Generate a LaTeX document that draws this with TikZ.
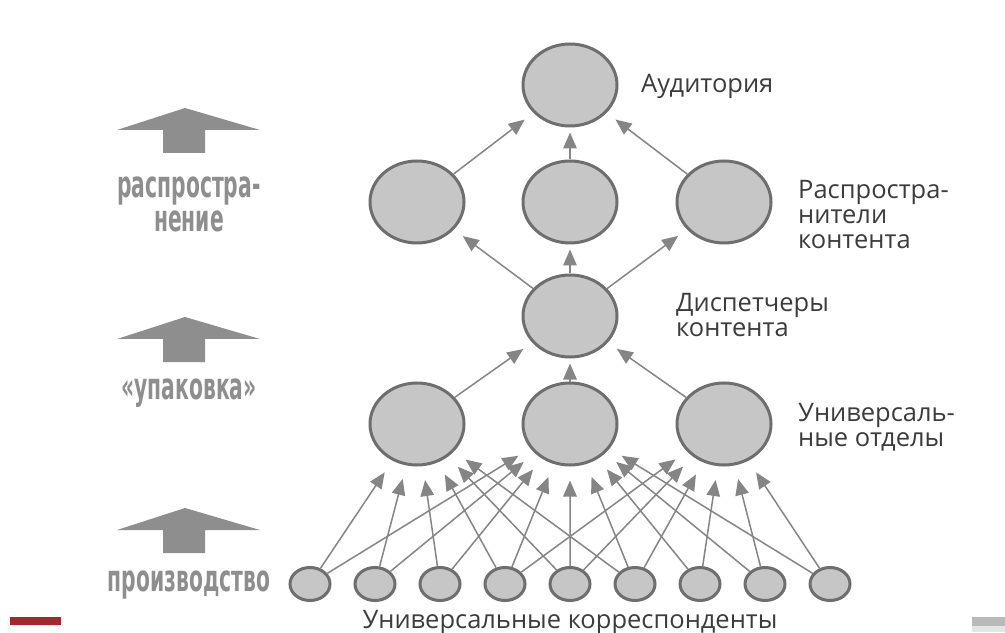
\documentclass[tikz,border=0pt]{standalone}
\usepackage{fontspec}
\setmainfont{Open Sans}
\newfontfamily\stagefont[FakeStretch=0.55]{DejaVu Sans}
\usetikzlibrary{shapes.geometric,arrows.meta}

\definecolor{ringgray}{HTML}{6E6E6E}
\definecolor{discgray}{HTML}{C6C6C6}
\definecolor{linkgray}{HTML}{858585}
\definecolor{stagegray}{HTML}{8E8E8E}
\definecolor{labelgray}{HTML}{3C3C3C}
\definecolor{barred}{HTML}{A3282B}

\tikzset{
    bigdisc/.style={ellipse, draw=ringgray, fill=discgray, line width=0.06cm,
        minimum width=1.88cm, minimum height=1.64cm, inner sep=0pt},
    smalldisc/.style={ellipse, draw=ringgray, fill=discgray, line width=0.06cm,
        minimum width=0.8cm, minimum height=0.66cm, inner sep=0pt},
    flow/.style={draw=linkgray, line width=0.03cm,
        -{Triangle[length=0.32cm,width=0.27cm]}, shorten >=0.22cm},
    rolelabel/.style={anchor=west, align=left, text=labelgray,
        font=\fontsize{14.5}{14.2}\selectfont},
    stagelabel/.style={text=stagegray, align=center,
        font=\stagefont\bfseries\fontsize{21}{19.3}\selectfont},
}

\begin{document}
\begin{tikzpicture}
        \useasboundingbox[fill=white] (0, 0) rectangle (20.1, 12.64);

        % levels
        \node[bigdisc] (aud) at (11.4, 10.94) {};
        \node[bigdisc] (dist1) at (8.34, 8.6) {};
        \node[bigdisc] (dist2) at (11.4, 8.6) {};
        \node[bigdisc] (dist3) at (14.48, 8.6) {};
        \node[bigdisc] (disp) at (11.4, 6.32) {};
        \node[bigdisc] (dept1) at (8.34, 4.16) {};
        \node[bigdisc] (dept2) at (11.4, 4.16) {};
        \node[bigdisc] (dept3) at (14.48, 4.16) {};
        \foreach \i in {1,...,9} {
            \node[smalldisc] (corr\i) at ({4.9 + 1.3*\i}, 0.96) {};
        }

        % links
        \foreach \i in {1,3} {
            \draw[flow] (dist\i) -- (aud);
            \draw[flow] (disp) -- (dist\i);
            \draw[flow] (dept\i) -- (disp);
        }
        \draw[flow, shorten >=0.1cm] (dist2) -- (aud);
        \draw[flow, shorten >=0.1cm] (disp) -- (dist2);
        \draw[flow, shorten >=0.1cm] (dept2) -- (disp);
        \foreach \i in {1,...,6} \draw[flow, shorten >=0.28cm] (corr\i) -- (dept1);
        \foreach \i in {1,...,9} \draw[flow, shorten >=0.28cm] (corr\i) -- (dept2);
        \foreach \i in {4,...,9} \draw[flow, shorten >=0.28cm] (corr\i) -- (dept3);

        % right-hand labels
        \node[rolelabel] (audtext) at (12.7, 10.92) {Аудитория};
        \node[rolelabel] (disttext) at (15.84, 8.35) {Распростра-\\нители\\контента};
        \node[rolelabel] (disptext) at (13.4, 6.34) {Диспетчеры\\контента};
        \node[rolelabel] (depttext) at (15.84, 4.09) {Универсаль-\\ные отделы};
        \node[text=labelgray, font=\fontsize{14.5}{14.2}\selectfont] (corrtext)
            at (11.4, 0.2) {Универсальные корреспонденты};

        % stages on the left
        \foreach \y in {10.48, 6.3, 2.48} {
            \fill[stagegray] (3.7, \y) -- ++(1.5, -0.44) -- ++(-1.1, 0) -- ++(0, -0.46)
                -- ++(-0.84, 0) -- ++(0, 0.46) -- ++(-0.92, 0) -- cycle;
        }
        \node[stagelabel] (spreadtext) at (3.78, 8.56) {распростра-\\нение};
        \node[stagelabel] (packtext) at (3.78, 4.78) {«упаковка»};
        \node[stagelabel] (maketext) at (3.78, 0.94) {производство};

        % slide bars
        \fill[barred] (0.2, 0.14) rectangle (1.22, 0.3);
        \fill[gray!55] (19.44, 0.12) rectangle (20.1, 0.3);
        \fill[gray!20] (19.44, 0) rectangle (20.1, 0.12);
    \end{tikzpicture}
\end{document}
